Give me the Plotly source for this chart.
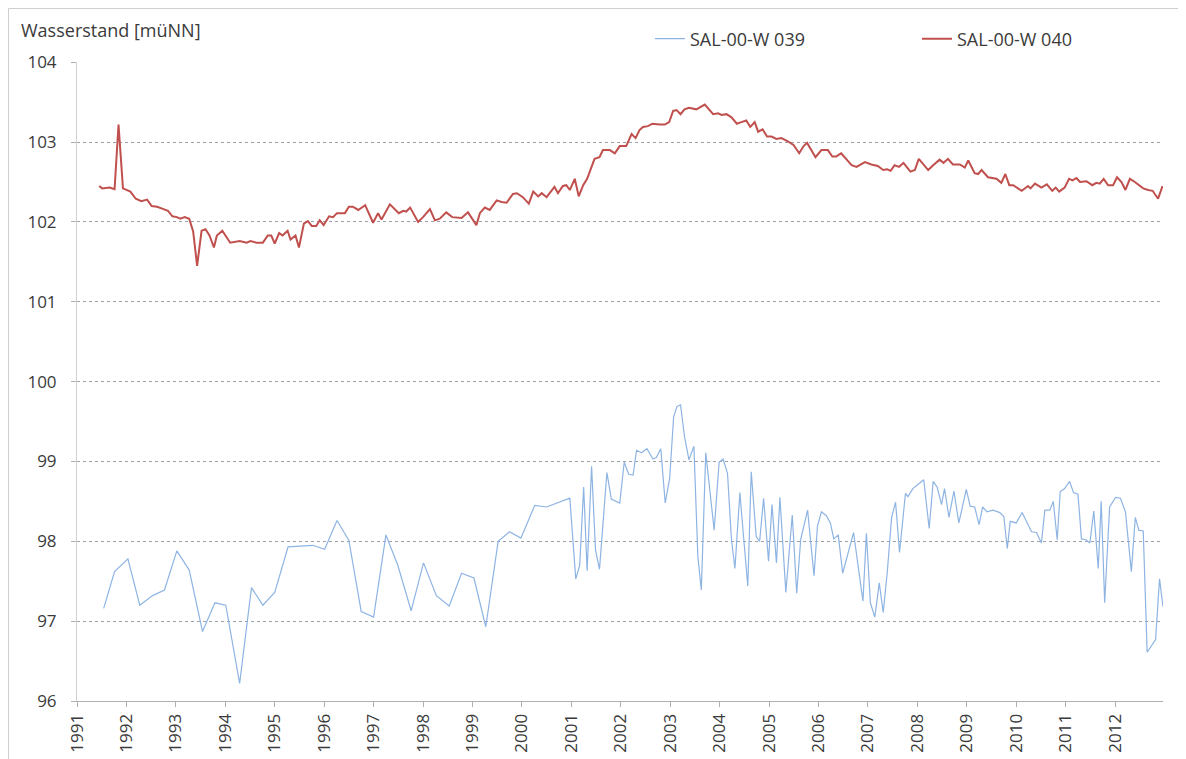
import plotly.graph_objects as go

# ---- data (decimal years, water level in müNN) ----
years = list(range(1991, 2013))
year_labels = [str(y) for y in years]

w040_t = [1991.45,1991.51,1991.66,1991.76,1991.84,1991.93,1992.08,1992.19,1992.30,1992.42,1992.51,1992.62,1992.75,1992.84,1992.93,
          1993.02,1993.09,1993.18,1993.27,1993.35,1993.43,1993.52,1993.60,1993.68,1993.77,1993.83,1993.94,1994.02,1994.10,1994.29,
          1994.43,1994.51,1994.63,1994.76,1994.86,1994.93,1995.00,1995.09,1995.16,1995.26,1995.32,1995.42,1995.49,1995.59,1995.67,
          1995.75,1995.84,1995.91,1995.99,1996.10,1996.18,1996.26,1996.42,1996.50,1996.58,1996.69,1996.83,1996.99,1997.09,1997.16,
          1997.33,1997.51,1997.60,1997.66,1997.74,1997.90,1998.00,1998.14,1998.24,1998.34,1998.47,1998.59,1998.78,1998.91,1999.08,
          1999.15,1999.25,1999.35,1999.49,1999.59,1999.69,1999.82,1999.90,2000.02,2000.14,2000.23,2000.33,2000.40,2000.50,2000.66,
          2000.73,2000.83,2000.90,2000.97,2001.07,2001.15,2001.24,2001.32,2001.41,2001.47,2001.57,2001.64,2001.78,2001.88,2001.98,
          2002.11,2002.22,2002.30,2002.38,2002.45,2002.55,2002.64,2002.79,2002.89,2002.98,2003.06,2003.13,2003.21,2003.29,2003.38,
          2003.53,2003.70,2003.87,2003.97,2004.04,2004.14,2004.24,2004.35,2004.44,2004.54,2004.62,2004.71,2004.78,2004.87,2004.96,
          2005.05,2005.15,2005.25,2005.38,2005.50,2005.61,2005.70,2005.77,2005.94,2006.06,2006.19,2006.28,2006.36,2006.46,2006.67,
          2006.77,2006.94,2007.07,2007.20,2007.31,2007.39,2007.46,2007.54,2007.63,2007.72,2007.86,2007.95,2008.03,2008.22,2008.32,
          2008.45,2008.53,2008.62,2008.72,2008.86,2008.96,2009.03,2009.16,2009.23,2009.30,2009.43,2009.60,2009.70,2009.78,2009.86,
          2009.94,2010.11,2010.24,2010.29,2010.38,2010.51,2010.62,2010.73,2010.80,2010.87,2010.98,2011.07,2011.14,2011.22,2011.29,
          2011.42,2011.54,2011.62,2011.69,2011.77,2011.86,2011.96,2012.04,2012.13,2012.21,2012.30,2012.40,2012.57,2012.67,2012.76,
          2012.87,2012.96]
w040_v = [102.45,102.42,102.43,102.41,103.22,102.42,102.38,102.29,102.26,102.28,102.20,102.19,102.16,102.14,102.07,
          102.06,102.04,102.06,102.04,101.88,101.45,101.89,101.91,101.83,101.68,101.83,101.89,101.81,101.74,101.76,
          101.74,101.76,101.74,101.74,101.83,101.83,101.73,101.86,101.83,101.89,101.78,101.83,101.68,101.98,102.01,
          101.95,101.95,102.02,101.96,102.07,102.06,102.11,102.11,102.19,102.19,102.15,102.21,101.99,102.11,102.03,
          102.22,102.11,102.14,102.13,102.18,102.00,102.06,102.16,102.02,102.04,102.12,102.06,102.05,102.12,101.96,
          102.11,102.18,102.15,102.27,102.25,102.24,102.35,102.36,102.31,102.23,102.38,102.32,102.36,102.31,102.44,
          102.36,102.45,102.46,102.40,102.54,102.32,102.46,102.54,102.68,102.79,102.81,102.90,102.90,102.86,102.95,
          102.95,103.10,103.05,103.15,103.19,103.20,103.23,103.22,103.22,103.25,103.39,103.40,103.35,103.41,103.43,
          103.41,103.47,103.35,103.36,103.34,103.35,103.31,103.23,103.25,103.27,103.19,103.25,103.13,103.16,103.07,
          103.07,103.04,103.05,103.01,102.96,102.86,102.95,102.99,102.81,102.90,102.90,102.82,102.82,102.86,102.71,
          102.69,102.75,102.72,102.70,102.65,102.66,102.64,102.71,102.69,102.74,102.63,102.65,102.79,102.65,102.71,
          102.78,102.74,102.79,102.72,102.72,102.68,102.77,102.61,102.60,102.65,102.56,102.54,102.49,102.60,102.46,
          102.46,102.39,102.45,102.42,102.48,102.43,102.47,102.39,102.43,102.38,102.43,102.54,102.52,102.55,102.50,
          102.51,102.46,102.49,102.48,102.54,102.46,102.46,102.56,102.50,102.40,102.54,102.50,102.42,102.40,102.39,
          102.29,102.45]

w039_t = [1991.54,1991.76,1992.03,1992.27,1992.53,1992.77,1993.02,1993.27,1993.54,1993.79,1994.01,1994.29,1994.53,1994.76,
          1995.00,1995.27,1995.77,1996.01,1996.26,1996.50,1996.75,1997.00,1997.25,1997.49,1997.76,1998.01,1998.27,1998.53,
          1998.78,1999.03,1999.27,1999.52,1999.75,1999.98,2000.26,2000.50,2000.97,2001.09,2001.17,2001.25,2001.32,2001.41,
          2001.49,2001.57,2001.72,2001.81,2001.98,2002.07,2002.16,2002.25,2002.32,2002.42,2002.53,2002.65,2002.72,2002.81,
          2002.90,2002.99,2003.07,2003.14,2003.21,2003.29,2003.38,2003.48,2003.56,2003.63,2003.72,2003.80,2003.89,2003.99,
          2004.07,2004.16,2004.24,2004.31,2004.41,2004.49,2004.57,2004.64,2004.74,2004.81,2004.89,2004.99,2005.06,2005.15,
          2005.22,2005.34,2005.47,2005.56,2005.64,2005.78,2005.91,2005.98,2006.06,2006.16,2006.24,2006.31,2006.40,2006.49,
          2006.60,2006.71,2006.82,2006.90,2006.97,2007.05,2007.14,2007.23,2007.31,2007.39,2007.48,2007.56,2007.64,2007.76,
          2007.81,2007.91,2008.05,2008.13,2008.24,2008.32,2008.40,2008.49,2008.55,2008.64,2008.74,2008.84,2008.99,2009.07,
          2009.16,2009.25,2009.32,2009.41,2009.53,2009.67,2009.75,2009.82,2009.88,2010.00,2010.12,2010.22,2010.31,2010.41,
          2010.51,2010.58,2010.68,2010.75,2010.83,2010.89,2010.98,2011.08,2011.16,2011.25,2011.32,2011.41,2011.49,2011.57,
          2011.66,2011.72,2011.79,2011.89,2012.01,2012.11,2012.21,2012.33,2012.41,2012.48,2012.57,2012.65,2012.82,2012.90,
          2012.97]
w039_v = [97.16,97.62,97.78,97.20,97.32,97.39,97.88,97.64,96.87,97.23,97.20,96.22,97.42,97.20,
          97.36,97.93,97.95,97.90,98.26,98.01,97.12,97.05,98.08,97.70,97.13,97.73,97.32,97.19,
          97.60,97.54,96.93,98.00,98.12,98.04,98.45,98.43,98.54,97.53,97.70,98.68,97.63,98.94,
          97.89,97.65,98.86,98.53,98.48,98.99,98.84,98.83,99.14,99.11,99.16,99.03,99.05,99.16,
          98.48,98.79,99.56,99.69,99.71,99.31,99.02,99.19,97.81,97.39,99.11,98.68,98.14,98.99,
          99.03,98.85,98.02,97.66,98.61,98.02,97.44,98.87,98.06,98.00,98.54,97.75,98.46,97.73,
          98.55,97.36,98.33,97.35,98.02,98.39,97.57,98.19,98.37,98.32,98.23,98.03,98.08,97.60,
          97.85,98.11,97.61,97.25,98.10,97.23,97.05,97.48,97.11,97.60,98.30,98.49,97.86,98.60,
          98.56,98.66,98.73,98.77,98.16,98.75,98.68,98.46,98.66,98.30,98.63,98.23,98.65,98.44,
          98.43,98.21,98.43,98.37,98.39,98.36,98.31,97.91,98.25,98.23,98.36,98.23,98.12,98.11,
          97.98,98.39,98.39,98.50,98.02,98.62,98.66,98.75,98.61,98.59,98.03,98.02,97.98,98.38,
          97.66,98.50,97.23,98.43,98.55,98.54,98.37,97.62,98.30,98.14,98.13,96.61,96.77,97.53,
          97.18]

FONT = "Open Sans, Noto Sans, sans-serif"
TXT = "#3a3a3a"

fig = go.Figure()
fig.add_trace(go.Scatter(x=w039_t, y=w039_v, mode="lines", name="SAL-00-W 039",
                         line=dict(color="#8EB4E3", width=1.2), legend="legend"))
fig.add_trace(go.Scatter(x=w040_t, y=w040_v, mode="lines", name="SAL-00-W 040",
                         line=dict(color="#C0504D", width=2), legend="legend2"))

# the page body adds an 8 px offset; the figure is sized to fit the window
OFF = 8
W, H = 1186 - OFF, 759 - OFF
L, T = 77 - OFF, 62 - OFF
R = W - (1163 - OFF)
B = H - (701 - OFF)
pw, ph = W - L - R, H - T - B

def px_x(p):  # page pixel -> paper x
    return (p - OFF - L) / pw

def px_y(p):  # page pixel -> paper y
    return (H + OFF - B - p) / ph

fig.update_layout(
    width=W, height=H,
    margin=dict(l=L, r=R, t=T, b=B, autoexpand=False),
    paper_bgcolor="white", plot_bgcolor="white",
    font=dict(family=FONT, size=17, color=TXT),
    showlegend=True,
    legend=dict(x=px_x(650), y=px_y(39), xanchor="left", yanchor="middle",
                orientation="h", font=dict(size=18, color=TXT), bgcolor="rgba(0,0,0,0)"),
    legend2=dict(x=px_x(917), y=px_y(39), xanchor="left", yanchor="middle",
                 orientation="h", font=dict(size=18, color=TXT), bgcolor="rgba(0,0,0,0)"),
    xaxis=dict(range=[1991, 2012.97], tickmode="array", tickvals=years, ticktext=year_labels,
               tickangle=-90, showgrid=False, zeroline=False, automargin=False,
               showline=True, linecolor="#b0b0b0", linewidth=1,
               ticks="outside", ticklen=5, tickcolor="#b0b0b0",
               tickfont=dict(size=17, color=TXT)),
    yaxis=dict(range=[96, 104.003], tick0=96, dtick=1, showgrid=True,
               gridcolor="#9aa0a6", griddash="dot", gridwidth=1, zeroline=False,
               automargin=False,
               showline=True, linecolor="#d0d0d0", linewidth=1,
               ticks="outside", ticklen=5, tickcolor="#b0b0b0",
               tickfont=dict(size=17, color=TXT), ticklabelstandoff=11),
    annotations=[dict(text="Wasserstand [müNN]", xref="paper", yref="paper",
                      x=px_x(19), y=px_y(30), xanchor="left", yanchor="middle",
                      showarrow=False, font=dict(size=18, color=TXT))],
    shapes=[dict(type="rect", xref="paper", yref="paper",
                 x0=px_x(8.5), x1=px_x(1183), y0=px_y(775), y1=px_y(8.5),
                 line=dict(color="#cfcfcf", width=1), layer="below")],
)

fig.write_html("out.html")
